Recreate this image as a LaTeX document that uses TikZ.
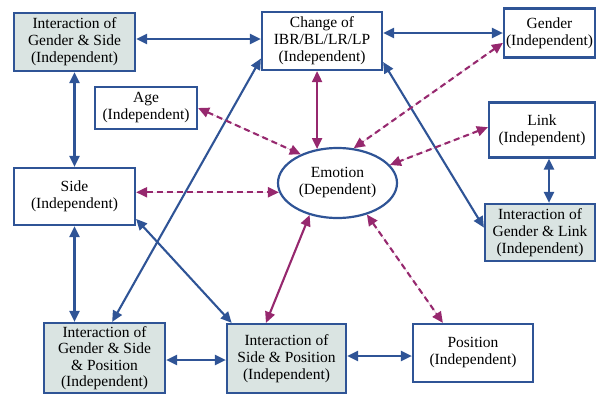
\documentclass[tikz,border=0pt]{standalone}
\usepackage{fontspec}
\setmainfont{Liberation Serif}
\usetikzlibrary{arrows.meta,shapes.geometric}
\definecolor{bl}{RGB}{47,84,150}
\definecolor{mg}{RGB}{150,40,110}
\definecolor{fl}{RGB}{218,228,226}
\tikzset{
  box/.style={draw=bl,line width=2.2pt,align=center,inner sep=0pt,
    font=\fontsize{15.5}{17}\selectfont},
  ibox/.style={box,fill=fl},
  arr/.style={line width=2.1pt,{Triangle[length=11pt,width=10pt]}-{Triangle[length=11pt,width=10pt]}},
  barr/.style={arr,draw=bl,fill=bl},
  marr/.style={arr,draw=mg,fill=mg},
  darr/.style={marr,dash pattern=on 6pt off 4pt}
}
\begin{document}
\begin{tikzpicture}[x=1pt,y=-1pt]
\useasboundingbox (0,0) rectangle (597,394);
\node[ibox,minimum width=121pt,minimum height=58pt] (GS) at (74.5,42) {Interaction of\\Gender \& Side\\(Independent)};
\node[box,minimum width=120pt,minimum height=58pt] (CH) at (322,41) {Change of\\IBR/BL/LR/LP\\(Independent)};
\node[box,minimum width=91pt,minimum height=49pt] (GE) at (549.5,33) {Gender\\(Independent)};
\node[box,minimum width=102pt,minimum height=42pt] (AG) at (146,108) {Age\\(Independent)};
\node[box,minimum width=106pt,minimum height=55pt] (LI) at (542,130) {Link\\(Independent)};
\node[box,minimum width=121pt,minimum height=57pt] (SI) at (74.5,196.5) {Side\\(Independent)};
\node[box,ellipse,minimum width=119pt,minimum height=70pt] (EM) at (337.5,183) {Emotion\\(Dependent)};
\node[ibox,minimum width=110pt,minimum height=57pt] (GL) at (540,232.5) {Interaction of\\Gender \& Link\\(Independent)};
\node[ibox,minimum width=121pt,minimum height=70pt,font=\fontsize{15.5}{16.5}\selectfont] (GSP) at (104.5,358) {Interaction of\\Gender \& Side\\\& Position\\(Independent)};
\node[ibox,minimum width=119pt,minimum height=69pt] (SP) at (286.5,358.5) {Interaction of\\Side \& Position\\(Independent)};
\node[box,minimum width=120pt,minimum height=58pt] (PO) at (473,353) {Position\\(Independent)};
% blue connectors
\draw[barr] (GS.east |- 0,39) -- (CH.west |- 0,39);
\draw[barr] (CH.east |- GE.west) -- (GE.west);
\draw[barr] (GS.south) -- (SI.north);
\draw[barr] (SI.south) -- (SI.south |- GSP.north);
\draw[barr] (CH.196) -- (GSP.78);
\draw[barr] (CH.341) -- (GL.175);
\draw[barr] (SI.340) -- (SP.147);
\draw[barr] (LI.south -| 549,0) -- (GL.north -| 549,0);
\draw[barr] (GSP.east |- 0,360) -- (SP.west |- 0,360);
\draw[barr] (SP.east |- 0,356) -- (PO.west |- 0,356);
% magenta connectors
\draw[marr] (CH.south -| EM.121) -- (EM.121);
\draw[marr] (SP.120) -- (EM.229);
\draw[darr] (AG.east) -- (EM.142);
\draw[darr] (GE.192) -- (EM.65);
\draw[darr] (LI.177) -- (EM.19);
\draw[darr] (SI.east |- EM.189) -- (EM.189);
\draw[darr] (EM.313) -- (PO.135);
\end{tikzpicture}
\end{document}
